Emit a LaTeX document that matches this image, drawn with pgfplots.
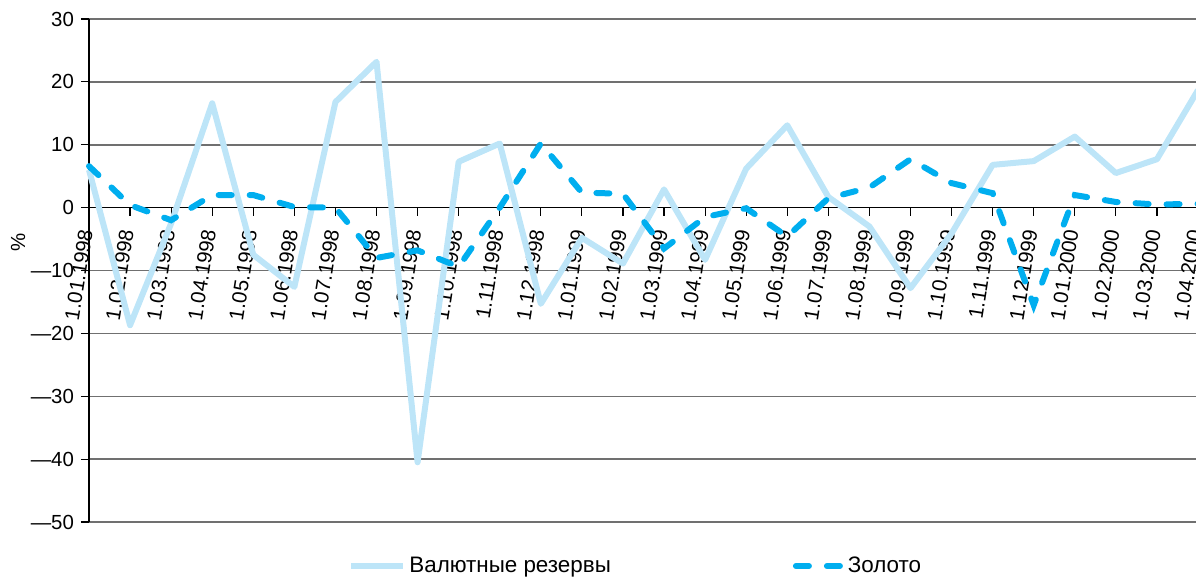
\documentclass[border=0pt]{standalone}
\usepackage{pgfplots}
\pgfplotsset{compat=1.18}
\usepackage{pgfplotstable}
\usepackage{fontspec}
\setmainfont{Liberation Sans}
\definecolor{reslight}{HTML}{BDE5F8}
\definecolor{golddash}{HTML}{00AEEF}
\definecolor{gridgray}{HTML}{707070}

\pgfplotsset{
  legsolid/.style={legend image code/.code={\draw[##1] (0pt,0pt) -- (26pt,0pt);}},
  legdash/.style={legend image code/.code={\draw[##1] (1.5pt,0pt) -- (24.5pt,0pt);}},
}

\pgfplotstableread{
x res gold
0 6.0 6.6
1 -18.7 0.4
2 -2.5 -2.0
3 16.6 2.0
4 -7.5 2.0
5 -12.6 0.1
6 16.8 0.0
7 23.2 -8.0
8 -40.5 -6.8
9 7.3 -9.4
10 10.2 0.0
11 -15.3 10.2
12 -4.8 2.4
13 -8.9 2.2
14 2.9 -6.5
15 -8.3 -1.5
16 6.2 -0.1
17 13.1 -4.6
18 1.7 1.5
19 -3.0 3.2
20 -12.8 7.7
21 -4.1 3.9
22 6.8 2.3
23 7.4 -15.5
24 11.3 2.0
25 5.5 0.9
26 7.7 0.5
27 18.7 0.6
}\data

\begin{document}
\begin{tikzpicture}[x=1pt,y=1pt]
\path[use as bounding box] (0,0) rectangle (598,289.5);
\begin{axis}[
  at={(44.5pt,28.5pt)}, anchor=south west,
  scale only axis, width=554.5pt, height=251.5pt,
  xmin=0, xmax=27, ymin=-50, ymax=30,
  axis x line*=middle, axis y line*=left,
  axis line style={-, black, line width=0.6pt},
  hide obscured x ticks=false, hide obscured y ticks=false,
  ymajorgrids, grid style={gridgray, line width=0.75pt},
  ytick={-50,-40,...,30},
  yticklabels={—50,—40,—30,—20,—10,0,10,20,30},
  xtick={0,...,27},
  xticklabels={1.01.1998,1.02.1998,1.03.1998,1.04.1998,1.05.1998,1.06.1998,1.07.1998,1.08.1998,1.09.1998,1.10.1998,1.11.1998,1.12.1998,1.01.1999,1.02.1999,1.03.1999,1.04.1999,1.05.1999,1.06.1999,1.07.1999,1.08.1999,1.09.1999,1.10.1999,1.11.1999,1.12.1999,1.01.2000,1.02.2000,1.03.2000,1.04.2000},
  tick align=outside,
  major tick length=4pt,
  tick style={black, line width=0.6pt},
  yticklabel style={font=\fontsize{10.2}{12}\selectfont},
  xticklabel style={font=\fontsize{10.3}{12}\selectfont, xshift=-1pt, yshift=-3.5pt, rotate=81, anchor=east},
  legend style={draw=none, fill=none, at={(axis description cs:0.4935,-0.0875)}, anchor=center,
    font=\fontsize{11.2}{13}\selectfont, nodes={inner xsep=1.5pt},
    /tikz/every even column/.append style={column sep=89.5pt}},
  legend columns=2,
  clip=false,
]
\addplot[reslight, line width=3pt, line join=round, legsolid] table[x=x, y=res] {\data};
\addlegendentry{Валютные резервы}
\addplot[golddash, line width=3pt, line cap=round, dash pattern=on 6.5pt off 9pt, legdash] table[x=x, y=gold] {\data};
\addlegendentry{Золото}
\node[rotate=90, font=\fontsize{10.2}{12}\selectfont, anchor=center] at (axis description cs:-0.064,0.555) {\%};
\end{axis}
\end{tikzpicture}
\end{document}
